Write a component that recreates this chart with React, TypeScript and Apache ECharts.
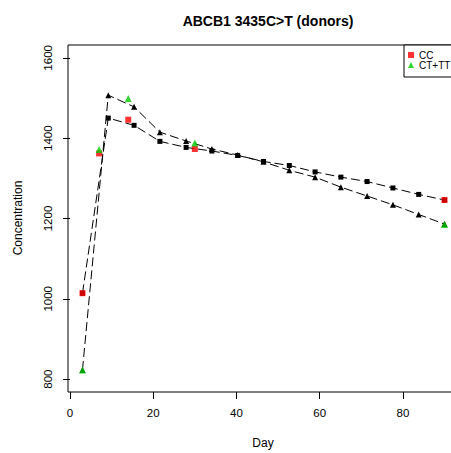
import React, { useEffect, useRef } from "react";
import * as echarts from "echarts";

const FONT = "'Liberation Sans', Arial, Helvetica, sans-serif";

// Model-predicted days (black points, dashed lines)
const modelDays = [3, 9.2, 15.4, 21.6, 27.9, 34.1, 40.3, 46.5, 52.7, 58.9, 65.1, 71.4, 77.6, 83.8, 90];
const modelCC = [1014, 1450, 1432, 1392, 1377, 1368, 1357, 1342, 1332, 1316, 1303, 1292, 1276, 1260, 1246];
const modelCTTT = [823, 1507, 1478, 1415, 1393, 1373, 1358, 1341, 1320, 1303, 1278, 1256, 1234, 1210, 1186];

// Observed points (coloured)
const obsDays = [3, 7, 14, 30, 90];
const obsCC = [1014, 1362, 1446, 1373, 1246];
const obsCTTT = [823, 1372, 1499, 1388, 1185];

const xTicks = [0, 20, 40, 60, 80];
const yTicks = [800, 1000, 1200, 1400, 1600];

const pairs = (xs: number[], ys: number[]) => xs.map((x, i) => [x, ys[i]]);

export default function App() {
  const ref = useRef<HTMLDivElement>(null);
  useEffect(() => {
    if (!ref.current) return;
    const chart = echarts.init(ref.current, null, { renderer: "svg" });
    const option: any = {
      animation: false,
      backgroundColor: "#ffffff",
      textStyle: { fontFamily: FONT },
      title: {
        text: "ABCB1 3435C>T (donors)",
        left: 263,
        top: 9,
        textAlign: "center",
        textStyle: { fontSize: 14, fontWeight: "bold", color: "#000", fontFamily: FONT },
      },
      grid: {
        left: 68,
        top: 45,
        width: 391,
        height: 347,
        show: true,
        borderColor: "#000",
        borderWidth: 1,
        backgroundColor: "transparent",
        containLabel: false,
        outerBoundsMode: "none",
      },
      legend: {
        orient: "vertical",
        left: 404,
        top: 45,
        padding: [5, 20, 7, 4],
        itemWidth: 6,
        itemHeight: 6,
        itemGap: 0,
        borderColor: "#000",
        borderWidth: 1,
        borderRadius: 0,
        backgroundColor: "#fff",
        textStyle: { fontSize: 10, color: "#000", fontFamily: FONT, lineHeight: 10 },
        data: [
          { name: "CC", icon: "rect" },
          { name: "CT+TT", icon: "triangle" },
        ],
      },
      xAxis: {
        type: "value",
        min: -0.48,
        max: 93.48,
        axisLine: { show: false },
        splitLine: { show: false },
        axisTick: {
          show: true,
          inside: false,
          length: 7,
          lineStyle: { color: "#000", width: 1 },
          customValues: xTicks,
        },
        axisLabel: {
          customValues: xTicks,
          margin: 15,
          fontSize: 11.5,
          color: "#000",
          fontFamily: FONT,
          formatter: (v: number) => String(v),
        },
      },
      yAxis: {
        type: "value",
        min: 768,
        max: 1632,
        axisLine: { show: false },
        splitLine: { show: false },
        axisTick: {
          show: true,
          inside: false,
          length: 7,
          lineStyle: { color: "#000", width: 1 },
          customValues: yTicks,
        },
        axisLabel: {
          customValues: yTicks,
          rotate: 90,
          margin: 14,
          fontSize: 11.5,
          color: "#000",
          fontFamily: FONT,
          formatter: (v: number) => String(v),
        },
      },
      graphic: [
        {
          type: "text",
          x: 263,
          y: 443,
          style: { text: "Day", font: `12px ${FONT}`, fill: "#000", align: "center", verticalAlign: "middle" },
        },
        {
          type: "text",
          x: 18,
          y: 218,
          rotation: Math.PI / 2,
          style: { text: "Concentration", font: `12px ${FONT}`, fill: "#000", align: "center", verticalAlign: "middle" },
        },
      ],
      series: [
        {
          name: "CC model",
          type: "line",
          data: pairs(modelDays, modelCC),
          symbol: "rect",
          symbolSize: 5,
          itemStyle: { color: "#000" },
          lineStyle: { color: "#000", width: 1, type: [9, 4] },
          z: 2,
        },
        {
          name: "CT+TT model",
          type: "line",
          data: pairs(modelDays, modelCTTT),
          symbol: "triangle",
          symbolSize: 6,
          itemStyle: { color: "#000" },
          lineStyle: { color: "#000", width: 1, type: [9, 4] },
          z: 2,
        },
        {
          name: "CC",
          type: "scatter",
          data: pairs(obsDays, obsCC),
          symbol: "rect",
          symbolSize: 6,
          itemStyle: { color: "#ff0000" },
          z: 3,
        },
        {
          name: "CT+TT",
          type: "scatter",
          data: pairs(obsDays, obsCTTT),
          symbol: "triangle",
          symbolSize: 7,
          itemStyle: { color: "#00cd00" },
          z: 3,
        },
      ],
    };
    chart.setOption(option);
    return () => chart.dispose();
  }, []);
  return (
    <div style={{ position: "fixed", left: 0, top: 0, width: 451, height: 453, background: "#fff" }}>
      <div ref={ref} style={{ width: 451, height: 453 }} />
    </div>
  );
}
